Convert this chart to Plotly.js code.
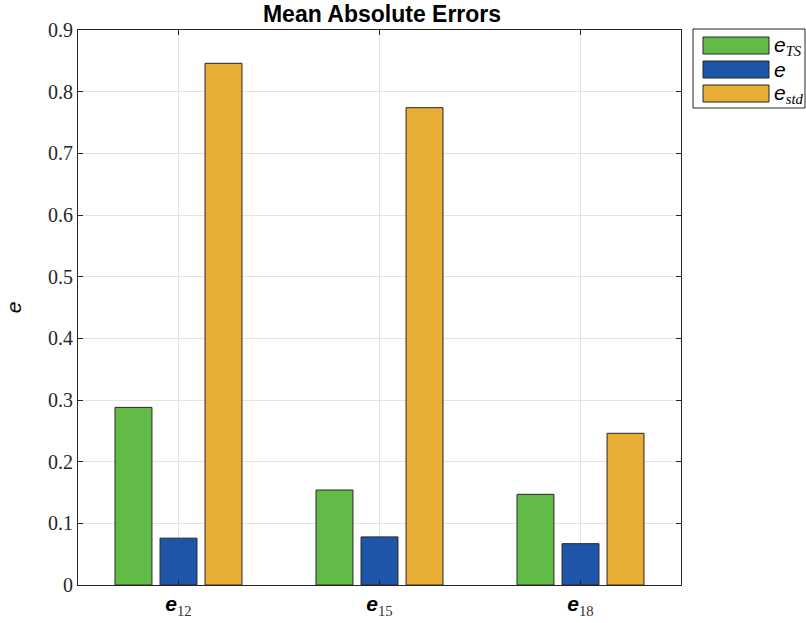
<!DOCTYPE html>
<html><head><meta charset="utf-8">
<script src="https://cdn.plot.ly/plotly-3.0.1.min.js"></script>
<style>body{margin:0;background:#fff}</style>
</head><body>
<div id="chart" style="width:806px;height:623px"></div>
<script>
const categories = ['e12', 'e15', 'e18'];
const subscripts = ['12', '15', '18'];
const eTS = [0.288, 0.154, 0.147];
const eVal = [0.076, 0.078, 0.067];
const eStd = [0.846, 0.774, 0.246];
const seriesSubs = ['TS', '', 'std'];
const colors = ['#62bb46', '#1f55a8', '#e9ae36'];

const SANS = 'Liberation Sans, Arial, sans-serif';
const SERIF = 'Liberation Serif, serif';
const eSpan = (bold) => `<span style="font-family:${SANS};font-style:italic;${bold ? 'font-weight:bold;' : ''}">e</span>`;
const tickLabels = subscripts.map(s => eSpan(true) + `<sub><span style="font-family:${SERIF};color:#333;">${s}</span></sub>`);
const seriesNames = seriesSubs.map(s => eSpan(false) + (s ? `<sub><span style="font-family:${SERIF};font-style:italic;">${s}</span></sub>` : ''));

const xs = [1, 2, 3];
const series = [eTS, eVal, eStd];
const traces = series.map((vals, i) => ({
  type: 'bar', x: xs, y: vals, name: seriesNames[i], showlegend: false,
  marker: {color: colors[i], line: {color: '#262626', width: 1}}
}));

// custom legend (wide swatches like the reference)
const px = v => (v - 78) / 603, py = v => (585 - v) / 555;
const shapes = [{type: 'rect', xref: 'paper', yref: 'paper', x0: px(693), x1: px(805), y0: py(29), y1: py(108),
  line: {color: '#262626', width: 1}, fillcolor: '#fff'}];
const annotations = [];
const rowTops = [37, 61, 85];
rowTops.forEach((t, i) => {
  shapes.push({type: 'rect', xref: 'paper', yref: 'paper', x0: px(703), x1: px(769), y0: py(t), y1: py(t + 17),
    line: {color: '#262626', width: 1}, fillcolor: colors[i]});
  annotations.push({xref: 'paper', yref: 'paper', x: px(772), y: py(t + 8.5), xanchor: 'left', yanchor: 'middle',
    text: seriesNames[i], showarrow: false, font: {family: SANS, size: 21, color: '#000'}});
});

const layout = {
  width: 806, height: 623,
  margin: {l: 78, r: 125, t: 30, b: 38},
  paper_bgcolor: '#fff', plot_bgcolor: '#fff',
  barmode: 'group', bargap: 0.328, bargroupgap: 0.18,
  showlegend: false,
  title: {text: '<b>Mean Absolute Errors</b>', font: {family: SANS, size: 23, color: '#000'},
          x: 0.474, xanchor: 'center', y: 0.99, yanchor: 'top'},
  xaxis: {range: [0.5, 3.5], tickvals: xs, ticktext: tickLabels,
          tickfont: {family: SERIF, size: 21, color: '#000'},
          showgrid: true, gridcolor: '#e3e3e3', ticks: 'inside', ticklen: 5, tickcolor: '#262626',
          showline: true, linecolor: '#262626', linewidth: 1, mirror: 'ticks', zeroline: false},
  yaxis: {range: [0, 0.9], dtick: 0.1, tick0: 0,
          tickfont: {family: SERIF, size: 20, color: '#262626'},
          showgrid: true, gridcolor: '#e3e3e3', ticks: 'inside', ticklen: 5, tickcolor: '#262626',
          showline: true, linecolor: '#262626', linewidth: 1, mirror: 'ticks', zeroline: false,
          title: {text: '<i>e</i>', font: {family: SANS, size: 21, color: '#000'}, standoff: 20}},
  shapes: shapes, annotations: annotations
};
Plotly.newPlot('chart', traces, layout, {displayModeBar: false});
</script>
</body></html>
